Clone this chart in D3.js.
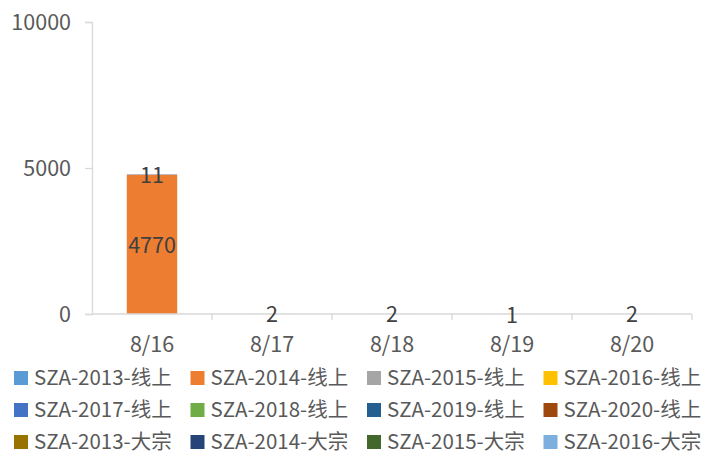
<!DOCTYPE html>
<html>
<head>
<meta charset="utf-8">
<script src="https://cdn.jsdelivr.net/npm/d3@7"></script>
<style>
  body { margin: 0; background: #fff; }
  text { font-family: "Noto Sans CJK SC", "Noto Sans", sans-serif; }
</style>
</head>
<body>
<div id="container"></div>
<script>
// Data
const dates = ["8/16", "8/17", "8/18", "8/19", "8/20"];
const seriesNames = [
  "SZA-2013-线上", "SZA-2014-线上", "SZA-2015-线上", "SZA-2016-线上",
  "SZA-2017-线上", "SZA-2018-线上", "SZA-2019-线上", "SZA-2020-线上",
  "SZA-2013-大宗", "SZA-2014-大宗", "SZA-2015-大宗", "SZA-2016-大宗"
];
const seriesColors = [
  "#5B9BD5", "#ED7D31", "#A5A5A5", "#FFC000",
  "#4472C4", "#70AD47", "#255E91", "#9E480E",
  "#997300", "#264478", "#43682B", "#7CAFDD"
];
const sza2014Online = [4770, 0, 0, 0, 0];
const sza2017Online = [11, 2, 2, 1, 2];
const zeros = [0, 0, 0, 0, 0];
const yTicks = [0, 5000, 10000];

const seriesValues = {
  "SZA-2014-线上": sza2014Online,
  "SZA-2017-线上": sza2017Online
};

const width = 710, height = 454;
const margin = { left: 92, right: 18, top: 22, bottom: 140 };
const fontSize = "21.5px";
const legendFont = "20.5px";

const svg = d3.select("div#container")
  .append("svg")
  .attr("width", width)
  .attr("height", height);

// Build table for stack
const table = dates.map((d, i) => {
  const row = { date: d };
  seriesNames.forEach((s) => { row[s] = (seriesValues[s] || zeros)[i]; });
  return row;
});
const stacked = d3.stack().keys(seriesNames)(table);

// Scales
const x = d3.scaleBand()
  .domain(dates)
  .range([margin.left, width - margin.right])
  .paddingInner(0.58)
  .paddingOuter(0.29);
const y = d3.scaleLinear()
  .domain([0, 10000])
  .range([height - margin.bottom, margin.top]);
const color = d3.scaleOrdinal().domain(seriesNames).range(seriesColors);

const axisColor = "#d9d9d9";
const textColor = "#595959";

// Bars
const layers = svg.append("g")
  .selectAll("g")
  .data(stacked)
  .enter()
  .append("g")
  .attr("fill", (d) => color(d.key));

layers.selectAll("rect")
  .data((d) => d)
  .enter()
  .append("rect")
  .attr("x", (d) => x(d.data.date))
  .attr("width", x.bandwidth())
  .attr("y", (d) => y(d[1]))
  .attr("height", (d) => y(d[0]) - y(d[1]));

// Y axis
const yAxis = svg.append("g")
  .attr("transform", `translate(${margin.left},0)`)
  .call(d3.axisLeft(y).tickValues(yTicks).tickFormat(d3.format("d")).tickSize(7).tickPadding(14));
yAxis.select(".domain").attr("stroke", axisColor).attr("stroke-width", 1.3);
yAxis.selectAll(".tick line").attr("stroke", axisColor).attr("stroke-width", 1.3);
yAxis.selectAll(".tick text")
  .attr("fill", textColor)
  .style("font-size", fontSize)
  .attr("dy", "0.35em");

// X axis
const x0 = y(0);
const xAxis = svg.append("g")
  .attr("transform", `translate(0,${x0})`);
xAxis.append("line")
  .attr("x1", margin.left).attr("x2", width - margin.right)
  .attr("stroke", axisColor).attr("stroke-width", 1.3);
const edges = dates.map((d) => x(d) - x.step() * x.paddingInner() / 2).concat([width - margin.right]);
xAxis.selectAll("line.edge")
  .data(edges.slice(1))
  .enter()
  .append("line")
  .attr("class", "edge")
  .attr("x1", (d) => d).attr("x2", (d) => d)
  .attr("y1", 0).attr("y2", 6)
  .attr("stroke", axisColor).attr("stroke-width", 1.3);
xAxis.selectAll("text")
  .data(dates)
  .enter()
  .append("text")
  .attr("x", (d) => x(d) + x.bandwidth() / 2)
  .attr("y", 38)
  .attr("text-anchor", "middle")
  .attr("fill", textColor)
  .style("font-size", fontSize)
  .text((d) => d);

// Data labels
const labels = [];
stacked.forEach((layer) => {
  layer.forEach((d) => {
    const v = d[1] - d[0];
    if (v > 0) labels.push({ date: d.data.date, v: v, mid: (d[0] + d[1]) / 2 });
  });
});
svg.append("g")
  .selectAll("text")
  .data(labels)
  .enter()
  .append("text")
  .attr("x", (d) => x(d.date) + x.bandwidth() / 2)
  .attr("y", (d) => y(d.mid) + 1)
  .attr("dy", "0.35em")
  .attr("text-anchor", "middle")
  .attr("fill", "#404040")
  .style("font-size", fontSize)
  .text((d) => d.v);

// Legend
const legend = svg.append("g");
const item = legend.selectAll("g")
  .data(seriesNames)
  .enter()
  .append("g")
  .attr("transform", (d, i) => `translate(${14 + (i % 4) * 176.5},${371 + Math.floor(i / 4) * 32})`);
item.append("rect")
  .attr("width", 14).attr("height", 14)
  .attr("fill", (d) => color(d));
item.append("text")
  .attr("x", 20).attr("y", 7)
  .attr("dy", "0.35em")
  .attr("fill", textColor)
  .style("font-size", legendFont)
  .text((d) => d);
</script>
</body>
</html>
